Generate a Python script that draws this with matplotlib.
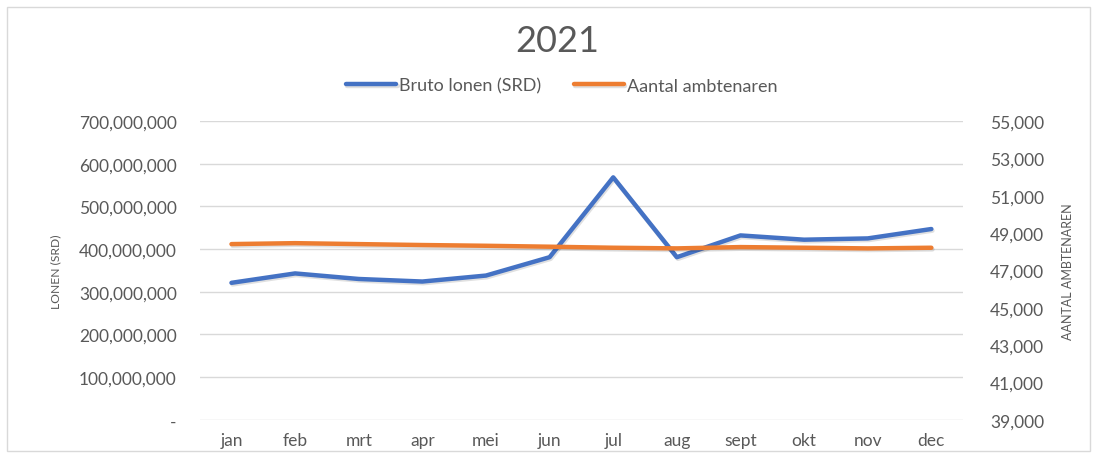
import matplotlib.pyplot as plt
import matplotlib.patheffects as pe
from matplotlib.patches import Rectangle
from matplotlib.ticker import FuncFormatter

plt.rcParams['font.family'] = ['Lato', 'DejaVu Sans']

# Data
months = ['jan', 'feb', 'mrt', 'apr', 'mei', 'jun', 'jul', 'aug', 'sept', 'okt', 'nov', 'dec']
bruto_lonen = [321e6, 343e6, 330e6, 324e6, 338e6, 381e6, 568e6, 381e6, 432e6, 422e6, 425e6, 447e6]
ambtenaren = [48410, 48460, 48410, 48360, 48320, 48270, 48215, 48180, 48250, 48215, 48180, 48215]

grey = '#595959'
blue = '#4472C4'
orange = '#ED7D31'

fig = plt.figure(figsize=(10.97, 4.56), dpi=100)
ax = fig.add_axes([0.182, 0.077, 0.696, 0.6555])
ax2 = ax.twinx()

shadow = [pe.SimpleLineShadow(offset=(0.8, -1.2), alpha=0.12, shadow_color='black'), pe.Normal()]
x = range(len(months))
l1, = ax.plot(x, bruto_lonen, color=blue, lw=3.2, solid_capstyle='round',
              label='Bruto lonen (SRD)', path_effects=shadow, zorder=3)
l2, = ax2.plot(x, ambtenaren, color=orange, lw=3.2, solid_capstyle='round',
               label='Aantal ambtenaren', path_effects=shadow, zorder=3)

ax.set_xlim(-0.5, 11.5)
ax.set_ylim(0, 700e6)
ax.set_yticks([i * 100e6 for i in range(8)])
ax.yaxis.set_major_formatter(FuncFormatter(lambda v, p: '-' if v == 0 else f'{v:,.0f}'))
ax2.set_ylim(39000, 55000)
ax2.set_yticks(range(39000, 55001, 2000))
ax2.yaxis.set_major_formatter(FuncFormatter(lambda v, p: f'{v:,.0f}'))

ax.set_xticks(list(x))
ax.set_xticklabels(months)
ax.grid(axis='y', color='#D9D9D9', lw=1)
ax.set_axisbelow(True)

for a in (ax, ax2):
    for s in a.spines.values():
        s.set_visible(False)
    a.tick_params(length=0, colors=grey, labelsize=12.5)
ax.tick_params(axis='y', pad=16.5)
ax.tick_params(axis='x', pad=9)
ax2.tick_params(axis='y', pad=19.5)

ax.set_ylabel('LONEN (SRD)', color=grey, fontsize=8.7, labelpad=13)
ax2.set_ylabel('AANTAL AMBTENAREN', color=grey, fontsize=9, rotation=90, labelpad=13)

fig.text(0.508, 0.908, '2021', ha='center', va='center', fontsize=26, color=grey)
fig.legend(handles=[l1, l2], loc='center', bbox_to_anchor=(0.512, 0.81), ncol=2,
           frameon=False, fontsize=13, labelcolor=grey, handlelength=2.8,
           handletextpad=0.15, columnspacing=1.8)

fig.patches.append(Rectangle((0.006, 0.008), 0.988, 0.975, transform=fig.transFigure,
                             fill=False, edgecolor='#D9D9D9', lw=1))

fig.savefig('out.png', dpi=100)
